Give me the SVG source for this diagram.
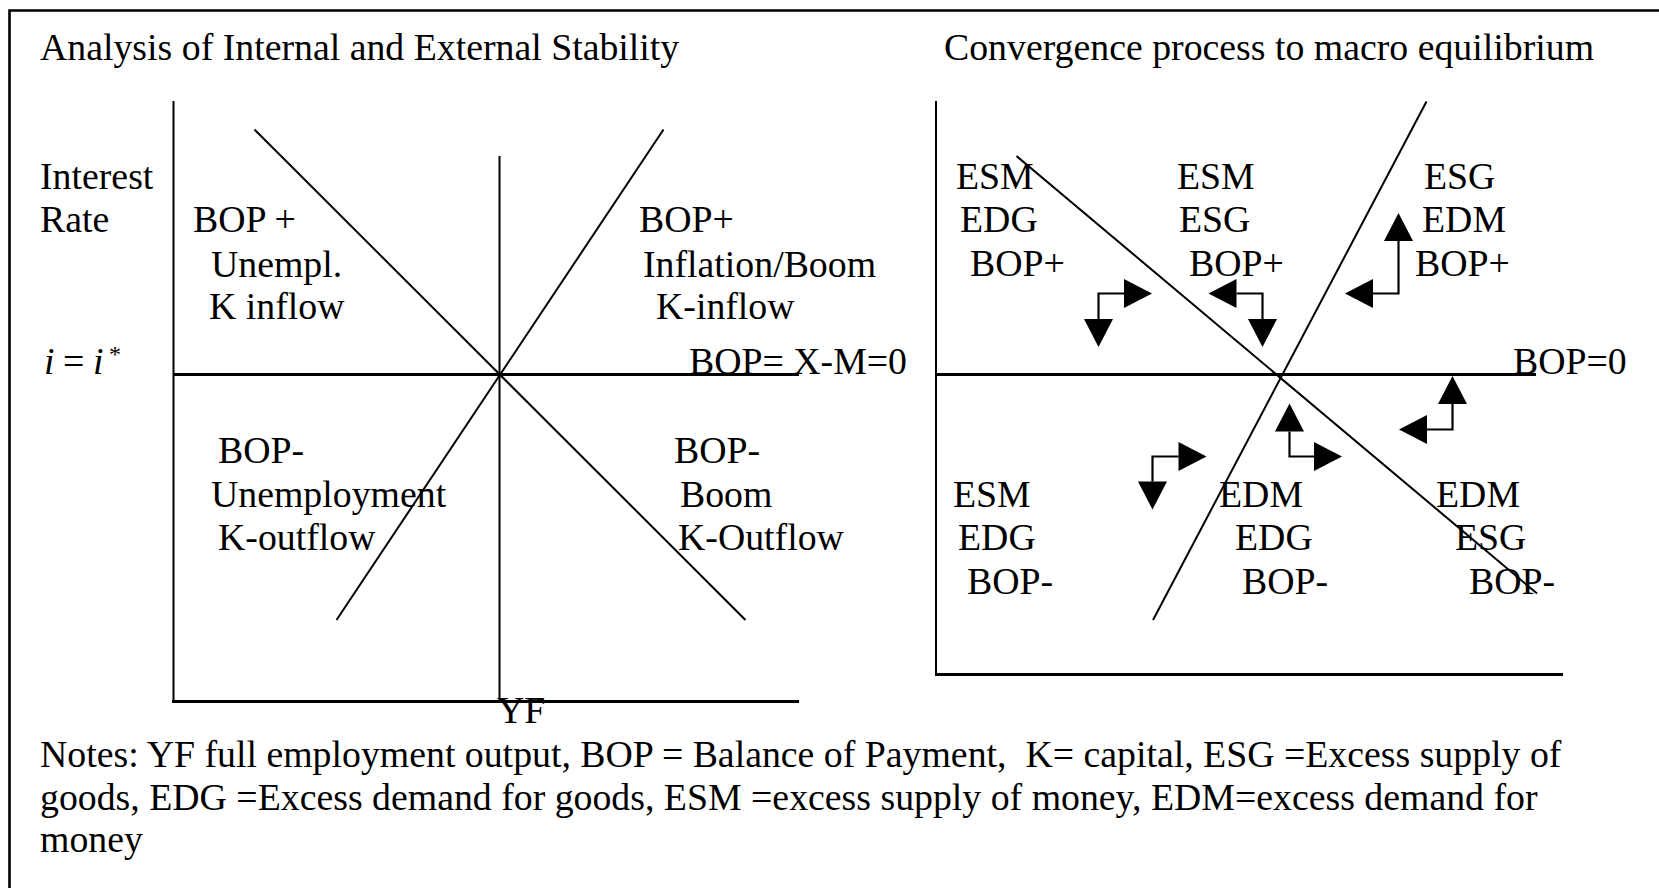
<svg xmlns="http://www.w3.org/2000/svg" width="1659" height="888" viewBox="0 0 1659 888">
<style>
text{font-family:"Liberation Serif","Times New Roman",serif;font-size:37.8px;fill:#000}
.ax{stroke:#000;stroke-width:2;fill:none}
.axb{stroke:#000;stroke-width:3;fill:none}
.ln{stroke:#000;stroke-width:2;fill:none}
.arr{stroke:#000;stroke-width:2.2;fill:none;marker-start:url(#ah);marker-end:url(#ah)}
</style>
<defs>
<marker id="ah" markerUnits="userSpaceOnUse" markerWidth="29" markerHeight="29" refX="0" refY="14.5" orient="auto-start-reverse" viewBox="0 0 28 29">
<path d="M0,0 L28,14.5 L0,29 Z" fill="#000"/>
</marker>
</defs>
<rect width="1659" height="888" fill="#fff"/>
<g id="frame"><path d="M9.5,888 V10.5 H1659" stroke="#000" stroke-width="2.6" fill="none"/></g>

<g id="titles">
<text x="40" y="60">Analysis of Internal and External Stability</text>
<text x="944" y="60">Convergence process to macro equilibrium</text>
</g>

<g id="left-axes">
<line class="ax" x1="173.5" y1="101" x2="173.5" y2="702"/>
<line class="axb" x1="172" y1="701.5" x2="799" y2="701.5"/>
<line class="axb" x1="173.5" y1="374.5" x2="799" y2="374.5"/>
<line class="ln" x1="499.5" y1="156" x2="499.5" y2="701"/>
<line class="ln" x1="254.5" y1="129.5" x2="745.5" y2="620"/>
<line class="ln" x1="663.5" y1="129.5" x2="336.5" y2="620"/>
</g>

<g id="left-labels">
<text x="40" y="189">Interest</text>
<text x="40" y="232">Rate</text>
<text y="374"><tspan x="44" font-style="italic">i</tspan><tspan x="63">=</tspan><tspan x="93" font-style="italic">i</tspan><tspan x="109" y="362" font-size="24">*</tspan></text>
<text x="689" y="374">BOP= X-M=0</text>
<text x="497" y="723">YF</text>
</g>
<g id="q-left-top">
<text x="193" y="232">BOP +</text>
<text x="211" y="277">Unempl.</text>
<text x="209" y="319">K inflow</text>
</g>
<g id="q-right-top">
<text x="639" y="232">BOP+</text>
<text x="643" y="277">Inflation/Boom</text>
<text x="656" y="319">K-inflow</text>
</g>
<g id="q-left-bottom">
<text x="218" y="463">BOP-</text>
<text x="211" y="507">Unemployment</text>
<text x="218" y="550">K-outflow</text>
</g>
<g id="q-right-bottom">
<text x="674" y="463">BOP-</text>
<text x="680" y="507">Boom</text>
<text x="678" y="550">K-Outflow</text>
</g>

<g id="right-axes">
<line class="ax" x1="936" y1="101" x2="936" y2="675"/>
<line class="axb" x1="935" y1="674.5" x2="1563" y2="674.5"/>
<line class="axb" x1="936" y1="374.5" x2="1536" y2="374.5"/>
<line class="ln" x1="1426.5" y1="101.5" x2="1153" y2="620"/>
<line class="ln" x1="1016.5" y1="156" x2="1537" y2="593.5"/>
</g>
<text x="1513" y="374">BOP=0</text>

<g id="r-tl"><text x="956" y="189">ESM</text><text x="960" y="232">EDG</text><text x="970" y="276">BOP+</text></g>
<g id="r-tm"><text x="1177" y="189">ESM</text><text x="1179" y="232">ESG</text><text x="1189" y="276">BOP+</text></g>
<g id="r-tr"><text x="1424" y="189">ESG</text><text x="1422" y="232">EDM</text><text x="1415" y="276">BOP+</text></g>
<g id="r-bl"><text x="953" y="507">ESM</text><text x="958" y="550">EDG</text><text x="967" y="594">BOP-</text></g>
<g id="r-bm"><text x="1219" y="507">EDM</text><text x="1235" y="550">EDG</text><text x="1242" y="594">BOP-</text></g>
<g id="r-br"><text x="1436" y="507">EDM</text><text x="1455" y="550">ESG</text><text x="1469" y="594">BOP-</text></g>

<g id="connectors">
<polyline class="arr" points="1124,293.5 1098.5,293.5 1098.5,319"/>
<polyline class="arr" points="1236.5,293.5 1262.5,293.5 1262.5,319"/>
<polyline class="arr" points="1398.5,241 1398.5,293.5 1373,293.5"/>
<polyline class="arr" points="1452.5,404 1452.5,429.5 1427,429.5"/>
<polyline class="arr" points="1289.5,431.5 1289.5,456.5 1314,456.5"/>
<polyline class="arr" points="1178.5,456.5 1152.5,456.5 1152.5,481.5"/>
</g>

<g id="notes">
<text x="40" y="767" xml:space="preserve">Notes: YF full employment output, BOP = Balance of Payment,  K= capital, ESG =Excess supply of</text>
<text x="40" y="810">goods, EDG =Excess demand for goods, ESM =excess supply of money, EDM=excess demand for</text>
<text x="40" y="852">money</text>
</g>
</svg>
